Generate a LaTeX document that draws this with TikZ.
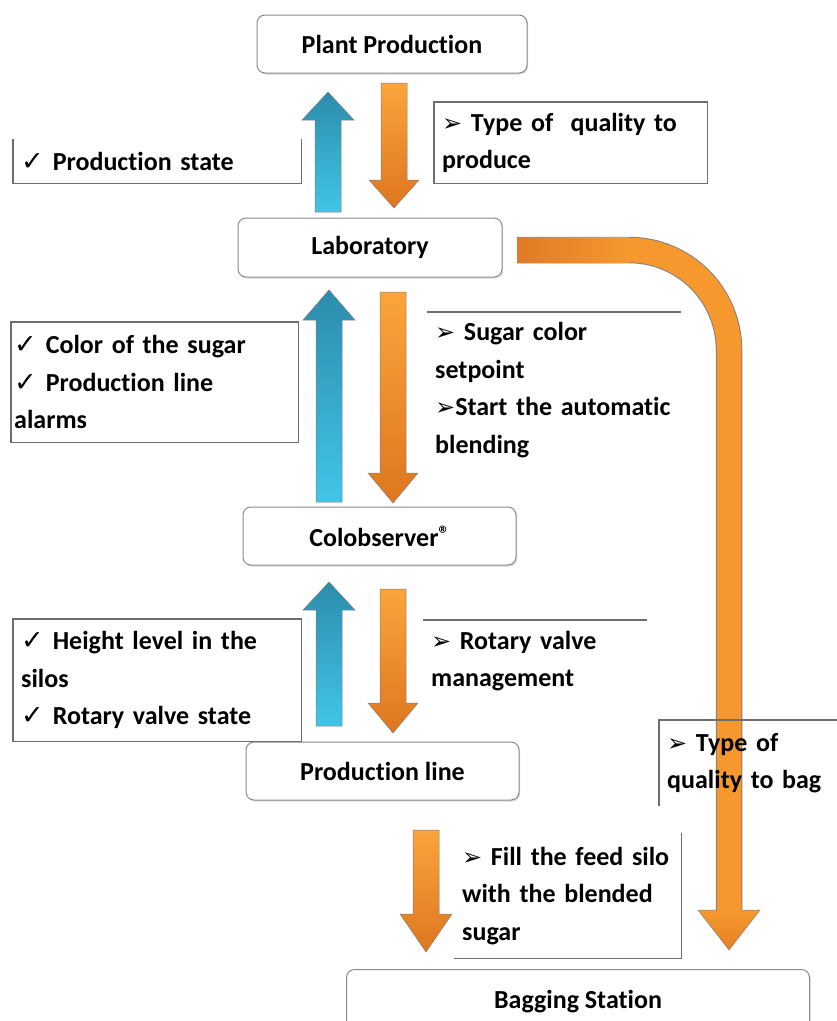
\documentclass[tikz,border=0pt]{standalone}
\usepackage{fontspec}
\setmainfont{Carlito}[Ligatures=NoCommon]
\newfontfamily\dejavu{DejaVu Sans}
\usetikzlibrary{calc,shadows}
\definecolor{orangetop}{HTML}{FBA43C}
\definecolor{orangebot}{HTML}{DE761F}
\definecolor{orangemid}{HTML}{F7982E}
\definecolor{orangeleft}{HTML}{E07A26}
\definecolor{bluetop}{HTML}{2B8CAB}
\definecolor{bluebot}{HTML}{42C5E8}
\definecolor{frame}{HTML}{6E6E6E}
\tikzset{
  every picture/.style={line join=miter},
  stage/.style={draw=frame!80, line width=1pt, fill=white, rounded corners=8pt,
    font=\fontsize{26}{30}\selectfont\bfseries,
    drop shadow={shadow xshift=1.2pt, shadow yshift=-1.5pt, opacity=0.3}},
  info/.style={anchor=north west, inner xsep=8pt, inner ysep=0pt, align=left,
    font=\fontsize{26}{37.5}\selectfont\bfseries},
  rim/.style={draw=frame, line width=1.3pt},
  feedup/.style={top color=bluetop, bottom color=bluebot, draw=black!50, line width=0.5pt},
  feeddown/.style={top color=orangetop, bottom color=orangebot, draw=black!50, line width=0.5pt},
  baghead/.style={top color=orangemid, bottom color=orangebot!70!orangemid, draw=black!50, line width=0.5pt},
}
\newcommand{\chk}{{\dejavu\bfseries\fontsize{27}{27}\selectfont ✓}\hspace{9pt}}
\newcommand{\arw}{{\dejavu\fontsize{24}{24}\selectfont ➢}}
\newcommand{\regmark}{{\fontsize{22}{22}\selectfont\raisebox{5pt}{\textregistered}}}
% block arrow: style, tail, tip, head offset, head half width
\newcommand{\blockarrow}[5]{%
  \path[#1] ($(#2)+(-13,0)$) -- ($(#3)+(-13,#4)$) -- ($(#3)+(-#5,#4)$) -- (#3)
    -- ($(#3)+(#5,#4)$) -- ($(#3)+(13,#4)$) -- ($(#2)+(13,0)$) -- cycle;}

\begin{document}
\begin{tikzpicture}[x=1pt,y=-1pt]
\clip (0,0) rectangle (837,1021);
% stages
\node[stage, minimum width=270, minimum height=58] (plant) at (392,44) {Plant Production};
\node[stage, minimum width=264, minimum height=59] (lab) at (370,247.5) {Laboratory};
\node[stage, minimum width=273, minimum height=58] (colob) at (379.5,536) {Colobserver\regmark};
\node[stage, minimum width=273, minimum height=58] (line) at (382.5,771) {Production line};
\node[stage, minimum width=463, minimum height=64, anchor=north] (bag) at (578,969) {Bagging Station};

% arrow ends
\coordinate (u1a) at (328,212); \coordinate (u1b) at (328,92);
\coordinate (d1a) at (394,83);  \coordinate (d1b) at (394,208);
\coordinate (u2a) at (329,502); \coordinate (u2b) at (329,290);
\coordinate (d2a) at (393,292); \coordinate (d2b) at (393,503);
\coordinate (u3a) at (329,726); \coordinate (u3b) at (329,582);
\coordinate (d3a) at (393,589); \coordinate (d3b) at (393,733);
\coordinate (d4a) at (426,830); \coordinate (d4b) at (426,952);
\coordinate (bagA) at (517,250); \coordinate (bagB) at (729,911);
\coordinate (bagC) at (729,910); \coordinate (bagD) at (729,950);

% arrows
\blockarrow{feedup}{u1a}{u1b}{28}{26}
\blockarrow{feeddown}{d1a}{d1b}{-28}{25}
\blockarrow{feedup}{u2a}{u2b}{30}{26}
\blockarrow{feeddown}{d2a}{d2b}{-30}{25}
\blockarrow{feedup}{u3a}{u3b}{28}{26}
\blockarrow{feeddown}{d3a}{d3b}{-30}{25}
\blockarrow{feeddown}{d4a}{d4b}{-38}{26}
\draw[black!50, line width=26.5pt, rounded corners=100pt] (bagA) -| (bagB);
\blockarrow{baghead}{bagC}{bagD}{-40}{31}
\draw[orangemid, line width=24.5pt, rounded corners=100pt] (bagA) -| (bagB);
\shade[left color=orangeleft, right color=orangemid] ($(bagA)+(0,-12.25)$) rectangle ($(bagA)+(112,12.25)$);

% information boxes
\node[info, text width=272, minimum height=44] (state) at (13,139) {\chk Production state};
\draw[rim] (state.north west) -- (state.south west) -- (state.south east) -- (state.north east);
\node[info, text width=257, minimum height=81] (quality) at (434,102) {\arw\ Type of~ quality to\\produce};
\draw[rim] (quality.south west) rectangle (quality.north east);
\node[info, inner xsep=3pt, text width=281, minimum height=120] (sugar) at (11,322)
  {\chk Color of the sugar\\\chk Production line\\alarms};
\draw[rim] (sugar.south west) rectangle (sugar.north east);
\node[info, text width=238, minimum height=156] (setpoint) at (427,312)
  {\arw\ Sugar color\\setpoint\\\arw Start the automatic\\blending};
\draw[rim] (setpoint.north west) -- (setpoint.north east);
\node[info, text width=272, minimum height=122] (silos) at (13,619)
  {\chk Height level in the\\silos\\\chk Rotary valve state};
\draw[rim] (silos.south west) rectangle (silos.north east);
\node[info, text width=208, minimum height=82] (valve) at (423,620) {\arw\ Rotary valve\\management};
\draw[rim] (valve.north west) -- (valve.north east);
\node[info, text width=170, minimum height=86] (bagtype) at (659,720) {\arw\ Type of\\quality to bag};
\draw[rim] (bagtype.north east) -- (bagtype.north west) -- (bagtype.south west);
\node[info, text width=211, minimum height=125] (feed) at (454,833)
  {\arw\ Fill the feed silo\\with the blended\\sugar};
\draw[rim] (feed.north east) -- (feed.south east) -- (feed.south west);
\end{tikzpicture}
\end{document}
